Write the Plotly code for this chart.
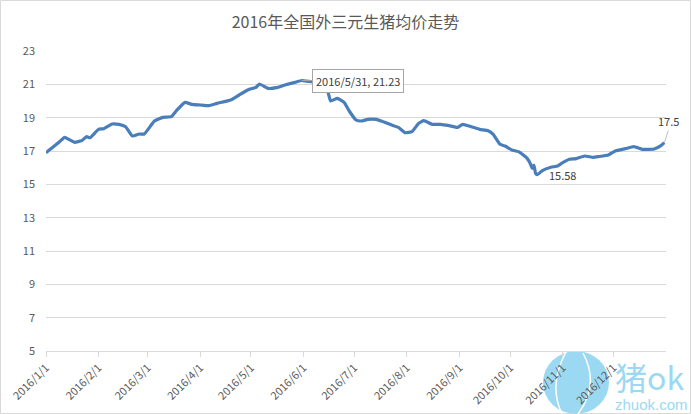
import plotly.graph_objects as go

dates = ["2016-01-01","2016-01-05","2016-01-09","2016-01-12","2016-01-16","2016-01-18","2016-01-22","2016-01-25","2016-01-27",
         "2016-02-01","2016-02-04","2016-02-09","2016-02-13","2016-02-17","2016-02-21","2016-02-25","2016-02-28",
         "2016-03-05","2016-03-10","2016-03-15","2016-03-18","2016-03-23","2016-03-27",
         "2016-04-01","2016-04-06","2016-04-11","2016-04-19","2016-04-24","2016-04-30",
         "2016-05-04","2016-05-06","2016-05-11","2016-05-16","2016-05-21","2016-05-27","2016-05-31",
         "2016-06-02","2016-06-06","2016-06-15","2016-06-17","2016-06-21","2016-06-25","2016-06-28",
         "2016-07-02","2016-07-05","2016-07-09","2016-07-14","2016-07-17","2016-07-23","2016-07-27","2016-07-31",
         "2016-08-04","2016-08-08","2016-08-11","2016-08-16","2016-08-21","2016-08-26","2016-08-31",
         "2016-09-03","2016-09-08","2016-09-13","2016-09-18","2016-09-21","2016-09-25","2016-09-28",
         "2016-10-02","2016-10-06","2016-10-11","2016-10-13","2016-10-14","2016-10-15","2016-10-16","2016-10-17",
         "2016-10-20","2016-10-25","2016-10-29",
         "2016-11-01","2016-11-05","2016-11-09","2016-11-14","2016-11-19","2016-11-22","2016-11-28",
         "2016-12-02","2016-12-08","2016-12-13","2016-12-18","2016-12-25","2016-12-29","2016-12-31"]
prices = [16.90,17.22,17.56,17.82,17.62,17.52,17.62,17.86,17.80,
          18.30,18.34,18.62,18.60,18.46,17.90,18.02,18.02,
          18.80,19.02,19.06,19.42,19.92,19.80,
          19.76,19.72,19.86,20.06,20.36,20.70,
          20.82,21.02,20.76,20.80,20.96,21.12,21.23,
          21.20,21.16,20.66,20.00,20.16,19.92,19.40,
          18.86,18.80,18.90,18.90,18.80,18.56,18.42,18.10,
          18.16,18.66,18.82,18.60,18.60,18.52,18.42,
          18.60,18.46,18.30,18.22,18.00,17.40,17.30,
          17.06,16.96,16.56,16.22,15.96,16.16,15.66,15.58,
          15.82,16.02,16.10,
          16.30,16.50,16.54,16.70,16.62,16.66,16.76,
          17.00,17.14,17.26,17.10,17.12,17.32,17.50]

tick_vals = ["2016-01-01","2016-02-01","2016-03-01","2016-04-01","2016-05-01","2016-06-01",
             "2016-07-01","2016-08-01","2016-09-01","2016-10-01","2016-11-01","2016-12-01"]
tick_text = ["2016/1/1","2016/2/1","2016/3/1","2016/4/1","2016/5/1","2016/6/1",
             "2016/7/1","2016/8/1","2016/9/1","2016/10/1","2016/11/1","2016/12/1"]
y_ticks = [5, 7, 9, 11, 13, 15, 17, 19, 21, 23]

fig = go.Figure()
fig.add_trace(go.Scatter(x=dates, y=prices, mode="lines",
                         line=dict(color="#4a7ebb", width=3.2, shape="spline", smoothing=0.4),
                         hoverinfo="x+y"))

fig.update_layout(
    width=691, height=414,
    margin=dict(l=46, r=25, t=51, b=63),
    paper_bgcolor="white", plot_bgcolor="white",
    showlegend=False,
    font=dict(family="Noto Sans CJK SC, Liberation Sans, sans-serif", color="#595959", size=11),
    title=dict(text="2016年全国外三元生猪均价走势", x=0.5, xanchor="center", y=0.945, yanchor="middle",
               font=dict(size=16, color="#595959", family="Noto Sans CJK SC, sans-serif")),
    xaxis=dict(type="date", range=["2016-01-01", "2017-01-01"], tickvals=tick_vals, ticktext=tick_text,
               tickangle=-45, showgrid=False, showline=True, linecolor="#d9d9d9", linewidth=1,
               ticks="outside", ticklen=5, tickcolor="#d9d9d9", automargin=False,
               tickfont=dict(size=11, color="#595959")),
    yaxis=dict(range=[5, 23], tickvals=y_ticks, showgrid=True, gridcolor="#d9d9d9", gridwidth=1,
               zeroline=False, showline=False, ticks="", ticklabelstandoff=10, automargin=False,
               tickfont=dict(size=11, color="#595959")),
)

fig.add_annotation(x="2016-05-31", y=21.23, text="2016/5/31, 21.23", showarrow=True, arrowhead=0,
                   arrowcolor="#a6a6a6", arrowwidth=1, ax=10, ay=0, xanchor="left", yanchor="middle",
                   bgcolor="white", bordercolor="#a6a6a6", borderwidth=1, borderpad=3,
                   font=dict(size=11, color="#404040"))
fig.add_annotation(x="2016-10-17", y=15.58, text="15.58", showarrow=False, xanchor="left", yanchor="middle",
                   xshift=10, yshift=0, font=dict(size=11, color="#404040"))
fig.add_annotation(x="2016-12-31", y=17.5, text="17.5", showarrow=True, arrowhead=0, arrowcolor="#bfbfbf",
                   arrowwidth=1, ax=4, ay=-12, yanchor="bottom", font=dict(size=11, color="#404040"))

# outer border
fig.add_shape(type="rect", xref="paper", yref="paper", x0=-45.5/620, x1=644.5/620, y0=-62.5/300, y1=350.5/300,
              line=dict(color="#d9d9d9", width=1), layer="below")
# watermark logo
fig.add_shape(type="circle", xref="paper", yref="paper", x0=(543-46)/620, x1=(609-46)/620,
              y0=(351-414)/300, y1=(351-351)/300, fillcolor="#9bd9f2", line=dict(width=0), layer="below")
fig.add_shape(type="path", xref="paper", yref="paper", layer="below",
              path="M %f %f Q %f %f %f %f" % ((566-46)/620, (351-352)/300, (548-46)/620, (351-385)/300,
                                              (562-46)/620, (351-414)/300),
              line=dict(color="white", width=1.5))
fig.add_shape(type="path", xref="paper", yref="paper", layer="below",
              path="M %f %f Q %f %f %f %f" % ((583-46)/620, (351-353)/300, (600-46)/620, (351-385)/300,
                                              (578-46)/620, (351-414)/300),
              line=dict(color="white", width=1.5))
fig.add_annotation(xref="paper", yref="paper", x=(614-46)/620, y=(351-376)/300, text="猪ok", showarrow=False,
                   xanchor="left", yanchor="middle", borderpad=0,
                   font=dict(size=32, color="#9bd9f2", family="Noto Sans CJK SC, sans-serif"))
fig.add_annotation(xref="paper", yref="paper", x=(614-46)/620, y=(351-404)/300, text="zhuok.com", showarrow=False,
                   xanchor="left", yanchor="middle", borderpad=0,
                   font=dict(size=15, color="#9bd9f2", family="Liberation Sans, sans-serif"))

fig.write_html("out.html", config={"displayModeBar": False},
               post_script="document.body.style.margin='0';document.body.style.overflow='hidden';")
